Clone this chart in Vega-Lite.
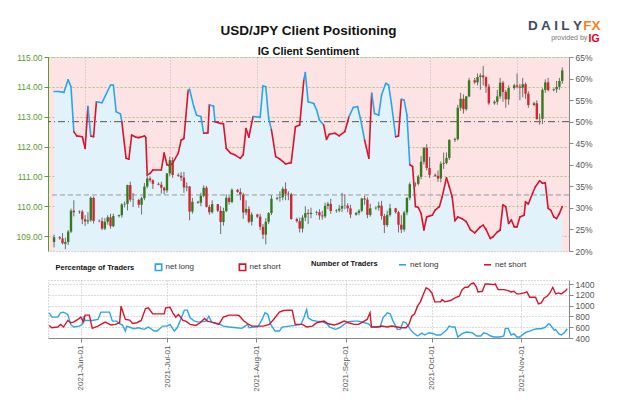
{
  "$schema": "https://vega.github.io/schema/vega-lite/v6.json",
  "padding": {"left": 15, "top": 18, "right": 0, "bottom": 0},
  "background": "white",
  "spacing": 29,
  "bounds": "flush",
  "config": {
    "font": "Liberation Sans",
    "axis": {"labelFont": "Liberation Sans", "labelFontSize": 8.5, "labelColor": "#555", "tickColor": "#888", "domainColor": "#888", "tickSize": 4, "labelPadding": 2, "title": null, "labelOverlap": false},
    "legend": {"labelFont": "Liberation Sans", "titleFont": "Liberation Sans", "labelFontSize": 8, "titleFontSize": 7.5, "titleFontWeight": "bold", "labelColor": "#333", "titleColor": "#111"}
  },
  "resolve": {"scale": {"x": "independent", "color": "independent", "stroke": "independent"}, "legend": {"color": "independent", "stroke": "independent"}},
  "datasets": {
    "sent": [
      {"d":"2021-05-21T00:00","p":57.0,"s":"L"},{"d":"2021-05-22T12:00","p":57.0,"s":"L"},{"d":"2021-05-24T12:00","p":56.8,"s":"L"},{"d":"2021-05-26T00:00","p":59.7,"s":"L"},{"d":"2021-05-27T00:00","p":58.1,"s":"L"},{"d":"2021-05-28T00:00","p":47.7,"s":"S"},{"d":"2021-05-29T00:00","p":46.7,"s":"S"},{"d":"2021-05-31T00:00","p":46.5,"s":"S"},{"d":"2021-06-01T00:00","p":43.8,"s":"S"},{"d":"2021-06-02T00:00","p":53.5,"s":"L"},{"d":"2021-06-03T00:00","p":46.7,"s":"S"},{"d":"2021-06-04T00:00","p":46.5,"s":"S"},{"d":"2021-06-05T00:00","p":54.6,"s":"L"},{"d":"2021-06-07T00:00","p":54.4,"s":"L"},{"d":"2021-06-10T00:00","p":58.5,"s":"L"},{"d":"2021-06-11T00:00","p":58.5,"s":"L"},{"d":"2021-06-12T00:00","p":52.3,"s":"L"},{"d":"2021-06-13T12:00","p":51.8,"s":"L"},{"d":"2021-06-14T00:00","p":50.0,"s":"S"},{"d":"2021-06-15T12:00","p":41.5,"s":"S"},{"d":"2021-06-16T12:00","p":41.3,"s":"S"},{"d":"2021-06-17T12:00","p":46.9,"s":"S"},{"d":"2021-06-19T00:00","p":46.4,"s":"S"},{"d":"2021-06-20T00:00","p":46.3,"s":"S"},{"d":"2021-06-22T00:00","p":46.7,"s":"S"},{"d":"2021-06-22T12:00","p":46.3,"s":"S"},{"d":"2021-06-23T00:00","p":37.6,"s":"S"},{"d":"2021-06-24T00:00","p":38.0,"s":"S"},{"d":"2021-06-25T00:00","p":38.8,"s":"S"},{"d":"2021-06-28T00:00","p":38.8,"s":"S"},{"d":"2021-06-29T00:00","p":42.7,"s":"S"},{"d":"2021-06-30T00:00","p":40.0,"s":"S"},{"d":"2021-07-01T00:00","p":39.8,"s":"S"},{"d":"2021-07-02T00:00","p":40.4,"s":"S"},{"d":"2021-07-04T00:00","p":42.7,"s":"S"},{"d":"2021-07-05T00:00","p":45.7,"s":"S"},{"d":"2021-07-06T00:00","p":46.1,"s":"S"},{"d":"2021-07-07T12:00","p":57.3,"s":"L"},{"d":"2021-07-08T00:00","p":57.5,"s":"L"},{"d":"2021-07-09T12:00","p":53.5,"s":"L"},{"d":"2021-07-10T12:00","p":51.5,"s":"L"},{"d":"2021-07-12T00:00","p":51.2,"s":"L"},{"d":"2021-07-13T00:00","p":47.3,"s":"S"},{"d":"2021-07-14T12:00","p":47.4,"s":"S"},{"d":"2021-07-15T00:00","p":53.9,"s":"L"},{"d":"2021-07-16T12:00","p":53.6,"s":"L"},{"d":"2021-07-17T00:00","p":50.0,"s":"S"},{"d":"2021-07-19T00:00","p":49.6,"s":"S"},{"d":"2021-07-20T00:00","p":49.5,"s":"S"},{"d":"2021-07-21T00:00","p":43.8,"s":"S"},{"d":"2021-07-22T12:00","p":42.7,"s":"S"},{"d":"2021-07-24T00:00","p":42.3,"s":"S"},{"d":"2021-07-26T00:00","p":41.5,"s":"S"},{"d":"2021-07-27T00:00","p":42.3,"s":"S"},{"d":"2021-07-28T00:00","p":48.4,"s":"S"},{"d":"2021-07-29T00:00","p":46.4,"s":"S"},{"d":"2021-07-30T12:00","p":51.2,"s":"L"},{"d":"2021-08-02T00:00","p":51.0,"s":"L"},{"d":"2021-08-03T00:00","p":58.3,"s":"L"},{"d":"2021-08-04T00:00","p":58.1,"s":"L"},{"d":"2021-08-05T00:00","p":50.8,"s":"L"},{"d":"2021-08-06T00:00","p":48.1,"s":"S"},{"d":"2021-08-07T12:00","p":41.9,"s":"S"},{"d":"2021-08-09T00:00","p":41.3,"s":"S"},{"d":"2021-08-11T00:00","p":40.2,"s":"S"},{"d":"2021-08-13T00:00","p":40.5,"s":"S"},{"d":"2021-08-14T12:00","p":48.8,"s":"S"},{"d":"2021-08-16T00:00","p":49.2,"s":"S"},{"d":"2021-08-17T12:00","p":59.8,"s":"L"},{"d":"2021-08-18T00:00","p":61.4,"s":"L"},{"d":"2021-08-19T00:00","p":54.6,"s":"L"},{"d":"2021-08-21T00:00","p":54.2,"s":"L"},{"d":"2021-08-22T00:00","p":52.7,"s":"L"},{"d":"2021-08-23T00:00","p":50.4,"s":"L"},{"d":"2021-08-24T12:00","p":49.2,"s":"S"},{"d":"2021-08-25T12:00","p":45.9,"s":"S"},{"d":"2021-08-26T12:00","p":47.1,"s":"S"},{"d":"2021-08-28T12:00","p":47.3,"s":"S"},{"d":"2021-08-30T00:00","p":46.7,"s":"S"},{"d":"2021-09-01T00:00","p":47.7,"s":"S"},{"d":"2021-09-02T12:00","p":51.2,"s":"L"},{"d":"2021-09-04T00:00","p":53.3,"s":"L"},{"d":"2021-09-05T12:00","p":53.5,"s":"L"},{"d":"2021-09-06T12:00","p":50.8,"s":"L"},{"d":"2021-09-08T00:00","p":45.7,"s":"S"},{"d":"2021-09-09T12:00","p":41.5,"s":"S"},{"d":"2021-09-10T12:00","p":56.6,"s":"L"},{"d":"2021-09-11T12:00","p":51.9,"s":"L"},{"d":"2021-09-13T00:00","p":51.5,"s":"L"},{"d":"2021-09-14T00:00","p":56.2,"s":"L"},{"d":"2021-09-15T12:00","p":58.9,"s":"L"},{"d":"2021-09-16T12:00","p":58.5,"s":"L"},{"d":"2021-09-17T12:00","p":54.2,"s":"L"},{"d":"2021-09-19T00:00","p":46.5,"s":"S"},{"d":"2021-09-20T00:00","p":46.7,"s":"S"},{"d":"2021-09-21T00:00","p":55.2,"s":"L"},{"d":"2021-09-22T00:00","p":55.0,"s":"L"},{"d":"2021-09-23T00:00","p":51.5,"s":"L"},{"d":"2021-09-24T00:00","p":40.0,"s":"S"},{"d":"2021-09-25T00:00","p":39.6,"s":"S"},{"d":"2021-09-26T00:00","p":30.3,"s":"S"},{"d":"2021-09-27T00:00","p":30.1,"s":"S"},{"d":"2021-09-28T00:00","p":28.7,"s":"S"},{"d":"2021-09-29T00:00","p":24.9,"s":"S"},{"d":"2021-09-30T00:00","p":27.9,"s":"S"},{"d":"2021-10-01T00:00","p":28.1,"s":"S"},{"d":"2021-10-02T00:00","p":28.3,"s":"S"},{"d":"2021-10-03T00:00","p":29.5,"s":"S"},{"d":"2021-10-04T12:00","p":30.3,"s":"S"},{"d":"2021-10-05T12:00","p":32.6,"s":"S"},{"d":"2021-10-07T00:00","p":37.0,"s":"S"},{"d":"2021-10-08T00:00","p":34.9,"s":"S"},{"d":"2021-10-09T00:00","p":32.6,"s":"S"},{"d":"2021-10-10T00:00","p":27.0,"s":"S"},{"d":"2021-10-11T00:00","p":27.9,"s":"S"},{"d":"2021-10-12T12:00","p":27.5,"s":"S"},{"d":"2021-10-14T00:00","p":26.8,"s":"S"},{"d":"2021-10-15T12:00","p":24.9,"s":"S"},{"d":"2021-10-17T00:00","p":24.2,"s":"S"},{"d":"2021-10-19T00:00","p":25.6,"s":"S"},{"d":"2021-10-20T00:00","p":26.0,"s":"S"},{"d":"2021-10-21T00:00","p":25.0,"s":"S"},{"d":"2021-10-22T12:00","p":22.9,"s":"S"},{"d":"2021-10-23T12:00","p":23.3,"s":"S"},{"d":"2021-10-25T00:00","p":24.4,"s":"S"},{"d":"2021-10-26T00:00","p":24.8,"s":"S"},{"d":"2021-10-27T00:00","p":30.7,"s":"S"},{"d":"2021-10-28T00:00","p":30.3,"s":"S"},{"d":"2021-10-29T00:00","p":26.4,"s":"S"},{"d":"2021-10-30T00:00","p":27.2,"s":"S"},{"d":"2021-10-31T00:00","p":25.6,"s":"S"},{"d":"2021-11-01T00:00","p":25.6,"s":"S"},{"d":"2021-11-02T00:00","p":27.9,"s":"S"},{"d":"2021-11-03T12:00","p":28.3,"s":"S"},{"d":"2021-11-04T00:00","p":31.4,"s":"S"},{"d":"2021-11-05T00:00","p":30.9,"s":"S"},{"d":"2021-11-06T12:00","p":33.4,"s":"S"},{"d":"2021-11-07T12:00","p":34.9,"s":"S"},{"d":"2021-11-09T00:00","p":36.3,"s":"S"},{"d":"2021-11-10T00:00","p":35.7,"s":"S"},{"d":"2021-11-11T00:00","p":35.8,"s":"S"},{"d":"2021-11-12T00:00","p":29.9,"s":"S"},{"d":"2021-11-13T00:00","p":29.4,"s":"S"},{"d":"2021-11-14T00:00","p":27.9,"s":"S"},{"d":"2021-11-15T00:00","p":27.5,"s":"S"},{"d":"2021-11-16T00:00","p":28.7,"s":"S"},{"d":"2021-11-17T00:00","p":30.3,"s":"S"}
    ],
    "ohlc": [
      {"d":"2021-05-21T00:00","o":108.80,"h":109.05,"l":108.62,"c":108.96},{"d":"2021-05-23T00:00","o":108.96,"h":109.00,"l":108.88,"c":108.92},{"d":"2021-05-24T00:00","o":108.92,"h":109.10,"l":108.72,"c":108.76},{"d":"2021-05-25T00:00","o":108.74,"h":108.95,"l":108.56,"c":108.80},{"d":"2021-05-26T00:00","o":108.80,"h":109.20,"l":108.70,"c":109.15},{"d":"2021-05-27T00:00","o":109.15,"h":109.92,"l":109.10,"c":109.85},{"d":"2021-05-28T00:00","o":109.85,"h":110.20,"l":109.66,"c":109.80},{"d":"2021-05-30T00:00","o":109.80,"h":109.86,"l":109.75,"c":109.82},{"d":"2021-05-31T00:00","o":109.82,"h":109.88,"l":109.40,"c":109.56},
      {"d":"2021-06-01T00:00","o":109.56,"h":109.70,"l":109.34,"c":109.49},{"d":"2021-06-02T00:00","o":109.49,"h":109.80,"l":109.40,"c":109.53},{"d":"2021-06-03T00:00","o":109.53,"h":110.33,"l":109.48,"c":110.28},{"d":"2021-06-04T00:00","o":110.28,"h":110.33,"l":109.42,"c":109.51},{"d":"2021-06-06T00:00","o":109.51,"h":109.56,"l":109.46,"c":109.50},{"d":"2021-06-07T00:00","o":109.50,"h":109.62,"l":109.20,"c":109.25},{"d":"2021-06-08T00:00","o":109.25,"h":109.60,"l":109.20,"c":109.48},{"d":"2021-06-09T00:00","o":109.48,"h":109.70,"l":109.38,"c":109.63},{"d":"2021-06-10T00:00","o":109.63,"h":109.75,"l":109.25,"c":109.33},{"d":"2021-06-11T00:00","o":109.33,"h":109.75,"l":109.30,"c":109.67},{"d":"2021-06-13T00:00","o":109.67,"h":109.72,"l":109.62,"c":109.70},{"d":"2021-06-14T00:00","o":109.70,"h":110.10,"l":109.62,"c":110.06},{"d":"2021-06-15T00:00","o":110.06,"h":110.16,"l":109.96,"c":110.08},{"d":"2021-06-16T00:00","o":110.08,"h":110.72,"l":109.86,"c":110.71},{"d":"2021-06-17T00:00","o":110.71,"h":110.82,"l":110.15,"c":110.22},{"d":"2021-06-18T00:00","o":110.22,"h":110.44,"l":109.97,"c":110.21},{"d":"2021-06-20T00:00","o":110.21,"h":110.25,"l":109.95,"c":110.05},{"d":"2021-06-21T00:00","o":110.05,"h":110.32,"l":109.72,"c":110.27},{"d":"2021-06-22T00:00","o":110.27,"h":110.78,"l":110.20,"c":110.66},{"d":"2021-06-23T00:00","o":110.66,"h":111.11,"l":110.60,"c":110.93},{"d":"2021-06-24T00:00","o":110.93,"h":111.00,"l":110.80,"c":110.87},{"d":"2021-06-25T00:00","o":110.87,"h":110.90,"l":110.58,"c":110.75},{"d":"2021-06-27T00:00","o":110.75,"h":110.80,"l":110.70,"c":110.72},{"d":"2021-06-28T00:00","o":110.72,"h":110.82,"l":110.42,"c":110.62},{"d":"2021-06-29T00:00","o":110.62,"h":110.65,"l":110.40,"c":110.53},{"d":"2021-06-30T00:00","o":110.53,"h":111.11,"l":110.45,"c":111.10},
      {"d":"2021-07-01T00:00","o":111.10,"h":111.66,"l":111.00,"c":111.54},{"d":"2021-07-02T00:00","o":111.54,"h":111.64,"l":110.95,"c":111.05},{"d":"2021-07-04T00:00","o":111.05,"h":111.10,"l":110.98,"c":111.02},{"d":"2021-07-05T00:00","o":111.02,"h":111.15,"l":110.85,"c":110.96},{"d":"2021-07-06T00:00","o":110.96,"h":111.15,"l":110.45,"c":110.63},{"d":"2021-07-07T00:00","o":110.63,"h":110.80,"l":110.50,"c":110.66},{"d":"2021-07-08T00:00","o":110.66,"h":110.68,"l":109.53,"c":109.82},{"d":"2021-07-09T00:00","o":109.82,"h":110.28,"l":109.75,"c":110.15},{"d":"2021-07-11T00:00","o":110.15,"h":110.18,"l":110.08,"c":110.12},{"d":"2021-07-12T00:00","o":110.12,"h":110.45,"l":110.00,"c":110.35},{"d":"2021-07-13T00:00","o":110.35,"h":110.70,"l":110.30,"c":110.62},{"d":"2021-07-14T00:00","o":110.62,"h":110.68,"l":109.96,"c":109.98},{"d":"2021-07-15T00:00","o":109.98,"h":110.05,"l":109.72,"c":109.80},{"d":"2021-07-16T00:00","o":109.80,"h":110.20,"l":109.75,"c":110.07},{"d":"2021-07-18T00:00","o":110.07,"h":110.07,"l":109.80,"c":109.85},{"d":"2021-07-19T00:00","o":109.85,"h":110.00,"l":109.07,"c":109.47},{"d":"2021-07-20T00:00","o":109.47,"h":109.95,"l":109.35,"c":109.84},{"d":"2021-07-21T00:00","o":109.84,"h":110.40,"l":109.80,"c":110.28},{"d":"2021-07-22T00:00","o":110.28,"h":110.35,"l":110.05,"c":110.14},{"d":"2021-07-23T00:00","o":110.14,"h":110.60,"l":110.10,"c":110.55},{"d":"2021-07-25T00:00","o":110.55,"h":110.58,"l":110.45,"c":110.48},{"d":"2021-07-26T00:00","o":110.48,"h":110.60,"l":110.20,"c":110.39},{"d":"2021-07-27T00:00","o":110.39,"h":110.45,"l":109.58,"c":109.79},{"d":"2021-07-28T00:00","o":109.79,"h":110.20,"l":109.70,"c":109.91},{"d":"2021-07-29T00:00","o":109.91,"h":110.00,"l":109.43,"c":109.48},{"d":"2021-07-30T00:00","o":109.48,"h":109.80,"l":109.35,"c":109.72},
      {"d":"2021-08-01T00:00","o":109.72,"h":109.75,"l":109.60,"c":109.65},{"d":"2021-08-02T00:00","o":109.65,"h":109.75,"l":109.20,"c":109.31},{"d":"2021-08-03T00:00","o":109.31,"h":109.40,"l":108.90,"c":109.05},{"d":"2021-08-04T00:00","o":109.05,"h":109.60,"l":108.72,"c":109.48},{"d":"2021-08-05T00:00","o":109.48,"h":109.80,"l":109.40,"c":109.77},{"d":"2021-08-06T00:00","o":109.77,"h":110.37,"l":109.70,"c":110.25},{"d":"2021-08-08T00:00","o":110.25,"h":110.32,"l":110.20,"c":110.28},{"d":"2021-08-09T00:00","o":110.28,"h":110.50,"l":110.15,"c":110.30},{"d":"2021-08-10T00:00","o":110.30,"h":110.65,"l":110.20,"c":110.58},{"d":"2021-08-11T00:00","o":110.58,"h":110.80,"l":110.20,"c":110.42},{"d":"2021-08-12T00:00","o":110.42,"h":110.50,"l":110.20,"c":110.40},{"d":"2021-08-13T00:00","o":110.40,"h":110.45,"l":109.55,"c":109.57},{"d":"2021-08-15T00:00","o":109.57,"h":109.62,"l":109.45,"c":109.50},{"d":"2021-08-16T00:00","o":109.50,"h":109.62,"l":109.12,"c":109.25},{"d":"2021-08-17T00:00","o":109.25,"h":109.70,"l":109.12,"c":109.62},{"d":"2021-08-18T00:00","o":109.62,"h":110.00,"l":109.50,"c":109.77},{"d":"2021-08-19T00:00","o":109.77,"h":109.90,"l":109.40,"c":109.74},{"d":"2021-08-20T00:00","o":109.74,"h":109.95,"l":109.60,"c":109.78},{"d":"2021-08-22T00:00","o":109.78,"h":109.85,"l":109.70,"c":109.80},{"d":"2021-08-23T00:00","o":109.80,"h":109.90,"l":109.55,"c":109.69},{"d":"2021-08-24T00:00","o":109.69,"h":109.85,"l":109.55,"c":109.66},{"d":"2021-08-25T00:00","o":109.66,"h":110.12,"l":109.60,"c":110.01},{"d":"2021-08-26T00:00","o":110.01,"h":110.15,"l":109.90,"c":110.08},{"d":"2021-08-27T00:00","o":110.08,"h":110.25,"l":109.75,"c":109.84},{"d":"2021-08-29T00:00","o":109.84,"h":109.90,"l":109.78,"c":109.86},{"d":"2021-08-30T00:00","o":109.86,"h":110.05,"l":109.80,"c":109.92},{"d":"2021-08-31T00:00","o":109.92,"h":110.45,"l":109.80,"c":110.01},
      {"d":"2021-09-01T00:00","o":110.01,"h":110.40,"l":109.90,"c":110.02},{"d":"2021-09-02T00:00","o":110.02,"h":110.10,"l":109.80,"c":109.93},{"d":"2021-09-03T00:00","o":109.93,"h":110.05,"l":109.60,"c":109.72},{"d":"2021-09-05T00:00","o":109.72,"h":109.80,"l":109.68,"c":109.78},{"d":"2021-09-06T00:00","o":109.78,"h":109.90,"l":109.70,"c":109.85},{"d":"2021-09-07T00:00","o":109.85,"h":110.28,"l":109.80,"c":110.26},{"d":"2021-09-08T00:00","o":110.26,"h":110.35,"l":110.05,"c":110.22},{"d":"2021-09-09T00:00","o":110.22,"h":110.30,"l":109.60,"c":109.71},{"d":"2021-09-10T00:00","o":109.71,"h":110.08,"l":109.65,"c":109.93},{"d":"2021-09-12T00:00","o":109.93,"h":110.00,"l":109.88,"c":109.95},{"d":"2021-09-13T00:00","o":109.95,"h":110.15,"l":109.85,"c":110.02},{"d":"2021-09-14T00:00","o":110.02,"h":110.18,"l":109.55,"c":109.67},{"d":"2021-09-15T00:00","o":109.67,"h":109.75,"l":109.10,"c":109.37},{"d":"2021-09-16T00:00","o":109.37,"h":109.85,"l":109.30,"c":109.71},{"d":"2021-09-17T00:00","o":109.71,"h":110.08,"l":109.65,"c":109.93},{"d":"2021-09-19T00:00","o":109.93,"h":109.95,"l":109.75,"c":109.80},{"d":"2021-09-20T00:00","o":109.80,"h":109.85,"l":109.12,"c":109.38},{"d":"2021-09-21T00:00","o":109.38,"h":109.70,"l":109.10,"c":109.22},{"d":"2021-09-22T00:00","o":109.22,"h":109.85,"l":109.15,"c":109.79},{"d":"2021-09-23T00:00","o":109.79,"h":110.30,"l":109.70,"c":110.28},{"d":"2021-09-24T00:00","o":110.28,"h":110.80,"l":110.20,"c":110.74},{"d":"2021-09-26T00:00","o":110.74,"h":110.80,"l":110.65,"c":110.75},{"d":"2021-09-27T00:00","o":110.75,"h":111.05,"l":110.70,"c":110.99},{"d":"2021-09-28T00:00","o":110.99,"h":111.68,"l":110.90,"c":111.49},{"d":"2021-09-29T00:00","o":111.49,"h":111.98,"l":111.40,"c":111.96},{"d":"2021-09-30T00:00","o":111.96,"h":112.08,"l":111.20,"c":111.28},
      {"d":"2021-10-01T00:00","o":111.28,"h":111.65,"l":110.95,"c":111.05},{"d":"2021-10-03T00:00","o":111.05,"h":111.10,"l":110.98,"c":111.02},{"d":"2021-10-04T00:00","o":111.02,"h":111.20,"l":110.82,"c":110.93},{"d":"2021-10-05T00:00","o":110.93,"h":111.50,"l":110.80,"c":111.42},{"d":"2021-10-06T00:00","o":111.42,"h":111.80,"l":111.25,"c":111.45},{"d":"2021-10-07T00:00","o":111.45,"h":111.80,"l":111.40,"c":111.62},{"d":"2021-10-08T00:00","o":111.62,"h":112.25,"l":111.55,"c":112.22},{"d":"2021-10-10T00:00","o":112.22,"h":112.30,"l":112.15,"c":112.25},{"d":"2021-10-11T00:00","o":112.25,"h":113.40,"l":112.20,"c":113.30},{"d":"2021-10-12T00:00","o":113.30,"h":113.80,"l":113.20,"c":113.60},{"d":"2021-10-13T00:00","o":113.60,"h":113.75,"l":113.10,"c":113.25},{"d":"2021-10-14T00:00","o":113.25,"h":113.70,"l":113.20,"c":113.68},{"d":"2021-10-15T00:00","o":113.68,"h":114.30,"l":113.65,"c":114.22},{"d":"2021-10-17T00:00","o":114.22,"h":114.30,"l":114.10,"c":114.15},{"d":"2021-10-18T00:00","o":114.15,"h":114.45,"l":114.05,"c":114.33},{"d":"2021-10-19T00:00","o":114.33,"h":114.45,"l":113.90,"c":114.38},{"d":"2021-10-20T00:00","o":114.38,"h":114.70,"l":114.05,"c":114.32},{"d":"2021-10-21T00:00","o":114.32,"h":114.35,"l":113.80,"c":114.01},{"d":"2021-10-22T00:00","o":114.01,"h":114.10,"l":113.40,"c":113.45},{"d":"2021-10-24T00:00","o":113.45,"h":113.55,"l":113.40,"c":113.50},{"d":"2021-10-25T00:00","o":113.50,"h":113.90,"l":113.40,"c":113.68},{"d":"2021-10-26T00:00","o":113.68,"h":114.30,"l":113.60,"c":114.14},{"d":"2021-10-27T00:00","o":114.14,"h":114.20,"l":113.50,"c":113.83},{"d":"2021-10-28T00:00","o":113.83,"h":113.90,"l":113.30,"c":113.58},{"d":"2021-10-29T00:00","o":113.58,"h":114.05,"l":113.40,"c":113.96},{"d":"2021-10-31T00:00","o":113.96,"h":114.10,"l":113.90,"c":114.05},
      {"d":"2021-11-01T00:00","o":114.05,"h":114.45,"l":113.95,"c":114.01},{"d":"2021-11-02T00:00","o":114.01,"h":114.10,"l":113.55,"c":113.97},{"d":"2021-11-03T00:00","o":113.97,"h":114.30,"l":113.65,"c":114.09},{"d":"2021-11-04T00:00","o":114.09,"h":114.15,"l":113.60,"c":113.77},{"d":"2021-11-05T00:00","o":113.77,"h":113.85,"l":113.30,"c":113.39},{"d":"2021-11-07T00:00","o":113.39,"h":113.50,"l":113.35,"c":113.45},{"d":"2021-11-08T00:00","o":113.45,"h":113.55,"l":112.90,"c":112.92},{"d":"2021-11-09T00:00","o":112.92,"h":113.10,"l":112.73,"c":112.93},{"d":"2021-11-10T00:00","o":112.93,"h":113.95,"l":112.75,"c":113.90},{"d":"2021-11-11T00:00","o":113.90,"h":114.25,"l":113.80,"c":114.15},{"d":"2021-11-12T00:00","o":114.15,"h":114.30,"l":113.85,"c":113.89},{"d":"2021-11-14T00:00","o":113.89,"h":113.95,"l":113.85,"c":113.92},{"d":"2021-11-15T00:00","o":113.92,"h":114.20,"l":113.80,"c":114.00},{"d":"2021-11-16T00:00","o":114.00,"h":114.30,"l":113.90,"c":114.20},{"d":"2021-11-17T00:00","o":114.20,"h":114.65,"l":114.10,"c":114.55}
    ],
    "traders": [
      {"d":"2021-05-21T00:00","v":867,"s":"L"},{"d":"2021-05-22T00:00","v":787,"s":"L"},{"d":"2021-05-24T00:00","v":787,"s":"L"},{"d":"2021-05-25T00:00","v":867,"s":"L"},{"d":"2021-05-26T00:00","v":879,"s":"L"},{"d":"2021-05-27T12:00","v":836,"s":"L"},{"d":"2021-05-28T12:00","v":652,"s":"L"},{"d":"2021-05-29T12:00","v":603,"s":"L"},{"d":"2021-05-31T12:00","v":621,"s":"L"},{"d":"2021-06-01T12:00","v":652,"s":"L"},{"d":"2021-06-02T00:00","v":805,"s":"L"},{"d":"2021-06-02T12:00","v":725,"s":"L"},{"d":"2021-06-05T00:00","v":725,"s":"L"},{"d":"2021-06-07T00:00","v":744,"s":"L"},{"d":"2021-06-08T00:00","v":879,"s":"L"},{"d":"2021-06-09T12:00","v":879,"s":"L"},{"d":"2021-06-11T00:00","v":879,"s":"L"},{"d":"2021-06-12T00:00","v":713,"s":"L"},{"d":"2021-06-13T12:00","v":713,"s":"L"},{"d":"2021-06-14T12:00","v":664,"s":"L"},{"d":"2021-06-15T12:00","v":640,"s":"L"},{"d":"2021-06-16T12:00","v":529,"s":"L"},{"d":"2021-06-17T00:00","v":621,"s":"L"},{"d":"2021-06-18T12:00","v":590,"s":"L"},{"d":"2021-06-19T12:00","v":572,"s":"L"},{"d":"2021-06-21T00:00","v":590,"s":"L"},{"d":"2021-06-23T00:00","v":560,"s":"L"},{"d":"2021-06-24T12:00","v":603,"s":"L"},{"d":"2021-06-26T12:00","v":529,"s":"L"},{"d":"2021-06-27T12:00","v":529,"s":"L"},{"d":"2021-06-29T12:00","v":621,"s":"L"},{"d":"2021-07-01T00:00","v":621,"s":"L"},{"d":"2021-07-02T00:00","v":652,"s":"L"},{"d":"2021-07-03T12:00","v":529,"s":"L"},{"d":"2021-07-04T12:00","v":590,"s":"L"},{"d":"2021-07-05T12:00","v":713,"s":"L"},{"d":"2021-07-07T00:00","v":916,"s":"L"},{"d":"2021-07-08T00:00","v":916,"s":"L"},{"d":"2021-07-09T00:00","v":775,"s":"L"},{"d":"2021-07-10T12:00","v":713,"s":"L"},{"d":"2021-07-12T00:00","v":695,"s":"L"},{"d":"2021-07-14T12:00","v":713,"s":"L"},{"d":"2021-07-15T12:00","v":805,"s":"L"},{"d":"2021-07-16T12:00","v":695,"s":"L"},{"d":"2021-07-19T00:00","v":664,"s":"L"},{"d":"2021-07-20T12:00","v":621,"s":"L"},{"d":"2021-07-22T12:00","v":603,"s":"L"},{"d":"2021-07-25T00:00","v":590,"s":"L"},{"d":"2021-07-27T00:00","v":578,"s":"L"},{"d":"2021-07-29T00:00","v":652,"s":"L"},{"d":"2021-07-29T12:00","v":590,"s":"L"},{"d":"2021-07-31T00:00","v":603,"s":"L"},{"d":"2021-08-01T12:00","v":603,"s":"L"},{"d":"2021-08-03T00:00","v":744,"s":"L"},{"d":"2021-08-04T00:00","v":867,"s":"L"},{"d":"2021-08-05T00:00","v":836,"s":"L"},{"d":"2021-08-06T00:00","v":652,"s":"L"},{"d":"2021-08-07T12:00","v":529,"s":"L"},{"d":"2021-08-09T00:00","v":529,"s":"L"},{"d":"2021-08-10T00:00","v":603,"s":"L"},{"d":"2021-08-12T12:00","v":621,"s":"L"},{"d":"2021-08-14T12:00","v":633,"s":"L"},{"d":"2021-08-16T12:00","v":652,"s":"L"},{"d":"2021-08-17T12:00","v":775,"s":"L"},{"d":"2021-08-18T12:00","v":928,"s":"L"},{"d":"2021-08-19T00:00","v":775,"s":"L"},{"d":"2021-08-20T12:00","v":725,"s":"L"},{"d":"2021-08-22T00:00","v":713,"s":"L"},{"d":"2021-08-24T00:00","v":701,"s":"L"},{"d":"2021-08-25T12:00","v":664,"s":"L"},{"d":"2021-08-26T12:00","v":603,"s":"L"},{"d":"2021-08-28T12:00","v":560,"s":"L"},{"d":"2021-08-30T00:00","v":590,"s":"L"},{"d":"2021-08-31T12:00","v":652,"s":"L"},{"d":"2021-09-02T00:00","v":701,"s":"L"},{"d":"2021-09-04T00:00","v":713,"s":"L"},{"d":"2021-09-05T12:00","v":713,"s":"L"},{"d":"2021-09-07T12:00","v":683,"s":"L"},{"d":"2021-09-09T00:00","v":664,"s":"L"},{"d":"2021-09-10T00:00","v":603,"s":"L"},{"d":"2021-09-11T12:00","v":603,"s":"L"},{"d":"2021-09-13T00:00","v":603,"s":"L"},{"d":"2021-09-14T00:00","v":775,"s":"L"},{"d":"2021-09-15T12:00","v":867,"s":"L"},{"d":"2021-09-16T12:00","v":848,"s":"L"},{"d":"2021-09-17T12:00","v":713,"s":"L"},{"d":"2021-09-19T00:00","v":560,"s":"L"},{"d":"2021-09-20T00:00","v":560,"s":"L"},{"d":"2021-09-21T00:00","v":701,"s":"L"},{"d":"2021-09-22T00:00","v":683,"s":"L"},{"d":"2021-09-23T12:00","v":560,"s":"L"},{"d":"2021-09-24T12:00","v":498,"s":"L"},{"d":"2021-09-26T00:00","v":437,"s":"L"},{"d":"2021-09-27T12:00","v":490,"s":"L"},{"d":"2021-09-28T12:00","v":455,"s":"L"},{"d":"2021-09-30T00:00","v":498,"s":"L"},{"d":"2021-10-01T12:00","v":480,"s":"L"},{"d":"2021-10-02T12:00","v":455,"s":"L"},{"d":"2021-10-04T00:00","v":455,"s":"L"},{"d":"2021-10-05T00:00","v":498,"s":"L"},{"d":"2021-10-06T00:00","v":541,"s":"L"},{"d":"2021-10-07T00:00","v":621,"s":"L"},{"d":"2021-10-08T00:00","v":603,"s":"L"},{"d":"2021-10-09T00:00","v":603,"s":"L"},{"d":"2021-10-10T00:00","v":418,"s":"L"},{"d":"2021-10-11T12:00","v":480,"s":"L"},{"d":"2021-10-13T00:00","v":511,"s":"L"},{"d":"2021-10-15T00:00","v":498,"s":"L"},{"d":"2021-10-16T12:00","v":437,"s":"L"},{"d":"2021-10-18T00:00","v":437,"s":"L"},{"d":"2021-10-19T00:00","v":498,"s":"L"},{"d":"2021-10-20T00:00","v":480,"s":"L"},{"d":"2021-10-21T12:00","v":437,"s":"L"},{"d":"2021-10-22T12:00","v":418,"s":"L"},{"d":"2021-10-24T12:00","v":418,"s":"L"},{"d":"2021-10-26T00:00","v":437,"s":"L"},{"d":"2021-10-26T12:00","v":578,"s":"L"},{"d":"2021-10-27T12:00","v":578,"s":"L"},{"d":"2021-10-28T12:00","v":455,"s":"L"},{"d":"2021-10-29T12:00","v":480,"s":"L"},{"d":"2021-10-30T12:00","v":418,"s":"L"},{"d":"2021-10-31T12:00","v":418,"s":"L"},{"d":"2021-11-02T00:00","v":480,"s":"L"},{"d":"2021-11-03T00:00","v":511,"s":"L"},{"d":"2021-11-04T00:00","v":529,"s":"L"},{"d":"2021-11-05T12:00","v":560,"s":"L"},{"d":"2021-11-06T12:00","v":572,"s":"L"},{"d":"2021-11-08T00:00","v":572,"s":"L"},{"d":"2021-11-09T12:00","v":603,"s":"L"},{"d":"2021-11-10T12:00","v":664,"s":"L"},{"d":"2021-11-11T00:00","v":652,"s":"L"},{"d":"2021-11-12T12:00","v":541,"s":"L"},{"d":"2021-11-13T00:00","v":560,"s":"L"},{"d":"2021-11-14T00:00","v":480,"s":"L"},{"d":"2021-11-15T00:00","v":455,"s":"L"},{"d":"2021-11-16T00:00","v":498,"s":"L"},{"d":"2021-11-17T00:00","v":572,"s":"L"},
      {"d":"2021-05-21T00:00","v":633,"s":"S"},{"d":"2021-05-22T00:00","v":590,"s":"S"},{"d":"2021-05-24T00:00","v":603,"s":"S"},{"d":"2021-05-25T00:00","v":652,"s":"S"},{"d":"2021-05-26T00:00","v":603,"s":"S"},{"d":"2021-05-27T12:00","v":725,"s":"S"},{"d":"2021-05-28T12:00","v":683,"s":"S"},{"d":"2021-05-29T12:00","v":695,"s":"S"},{"d":"2021-05-31T00:00","v":744,"s":"S"},{"d":"2021-06-01T00:00","v":787,"s":"S"},{"d":"2021-06-02T00:00","v":695,"s":"S"},{"d":"2021-06-02T12:00","v":824,"s":"S"},{"d":"2021-06-04T00:00","v":824,"s":"S"},{"d":"2021-06-05T00:00","v":578,"s":"S"},{"d":"2021-06-07T00:00","v":621,"s":"S"},{"d":"2021-06-08T00:00","v":652,"s":"S"},{"d":"2021-06-09T12:00","v":695,"s":"S"},{"d":"2021-06-11T12:00","v":640,"s":"S"},{"d":"2021-06-13T00:00","v":652,"s":"S"},{"d":"2021-06-14T12:00","v":683,"s":"S"},{"d":"2021-06-15T00:00","v":990,"s":"S"},{"d":"2021-06-16T12:00","v":744,"s":"S"},{"d":"2021-06-18T00:00","v":732,"s":"S"},{"d":"2021-06-19T00:00","v":670,"s":"S"},{"d":"2021-06-20T12:00","v":683,"s":"S"},{"d":"2021-06-22T00:00","v":725,"s":"S"},{"d":"2021-06-23T12:00","v":947,"s":"S"},{"d":"2021-06-24T12:00","v":959,"s":"S"},{"d":"2021-06-26T00:00","v":848,"s":"S"},{"d":"2021-06-27T12:00","v":848,"s":"S"},{"d":"2021-06-30T00:00","v":848,"s":"S"},{"d":"2021-06-30T12:00","v":959,"s":"S"},{"d":"2021-07-02T00:00","v":971,"s":"S"},{"d":"2021-07-03T00:00","v":867,"s":"S"},{"d":"2021-07-04T00:00","v":787,"s":"S"},{"d":"2021-07-05T00:00","v":836,"s":"S"},{"d":"2021-07-06T12:00","v":725,"s":"S"},{"d":"2021-07-07T12:00","v":713,"s":"S"},{"d":"2021-07-09T00:00","v":652,"s":"S"},{"d":"2021-07-11T00:00","v":633,"s":"S"},{"d":"2021-07-12T12:00","v":683,"s":"S"},{"d":"2021-07-14T00:00","v":762,"s":"S"},{"d":"2021-07-15T00:00","v":713,"s":"S"},{"d":"2021-07-16T12:00","v":695,"s":"S"},{"d":"2021-07-19T00:00","v":652,"s":"S"},{"d":"2021-07-20T12:00","v":787,"s":"S"},{"d":"2021-07-22T12:00","v":824,"s":"S"},{"d":"2021-07-25T00:00","v":824,"s":"S"},{"d":"2021-07-26T00:00","v":818,"s":"S"},{"d":"2021-07-27T12:00","v":725,"s":"S"},{"d":"2021-07-29T00:00","v":664,"s":"S"},{"d":"2021-07-30T12:00","v":621,"s":"S"},{"d":"2021-08-01T12:00","v":621,"s":"S"},{"d":"2021-08-03T12:00","v":621,"s":"S"},{"d":"2021-08-05T12:00","v":652,"s":"S"},{"d":"2021-08-07T00:00","v":744,"s":"S"},{"d":"2021-08-09T00:00","v":879,"s":"S"},{"d":"2021-08-10T12:00","v":910,"s":"S"},{"d":"2021-08-12T12:00","v":916,"s":"S"},{"d":"2021-08-13T12:00","v":910,"s":"S"},{"d":"2021-08-14T12:00","v":652,"s":"S"},{"d":"2021-08-17T00:00","v":652,"s":"S"},{"d":"2021-08-18T12:00","v":603,"s":"S"},{"d":"2021-08-20T12:00","v":621,"s":"S"},{"d":"2021-08-22T00:00","v":683,"s":"S"},{"d":"2021-08-24T12:00","v":713,"s":"S"},{"d":"2021-08-26T00:00","v":664,"s":"S"},{"d":"2021-08-28T00:00","v":640,"s":"S"},{"d":"2021-08-29T12:00","v":664,"s":"S"},{"d":"2021-08-31T12:00","v":713,"s":"S"},{"d":"2021-09-02T00:00","v":683,"s":"S"},{"d":"2021-09-04T00:00","v":652,"s":"S"},{"d":"2021-09-05T12:00","v":652,"s":"S"},{"d":"2021-09-07T12:00","v":713,"s":"S"},{"d":"2021-09-08T12:00","v":744,"s":"S"},{"d":"2021-09-09T12:00","v":867,"s":"S"},{"d":"2021-09-10T00:00","v":603,"s":"S"},{"d":"2021-09-12T00:00","v":603,"s":"S"},{"d":"2021-09-13T12:00","v":621,"s":"S"},{"d":"2021-09-15T12:00","v":603,"s":"S"},{"d":"2021-09-17T00:00","v":621,"s":"S"},{"d":"2021-09-19T00:00","v":603,"s":"S"},{"d":"2021-09-20T12:00","v":590,"s":"S"},{"d":"2021-09-22T00:00","v":590,"s":"S"},{"d":"2021-09-23T00:00","v":652,"s":"S"},{"d":"2021-09-24T00:00","v":805,"s":"S"},{"d":"2021-09-25T00:00","v":848,"s":"S"},{"d":"2021-09-26T00:00","v":990,"s":"S"},{"d":"2021-09-27T00:00","v":1070,"s":"S"},{"d":"2021-09-28T00:00","v":1205,"s":"S"},{"d":"2021-09-29T00:00","v":1330,"s":"S"},{"d":"2021-09-30T00:00","v":1300,"s":"S"},{"d":"2021-10-01T00:00","v":1235,"s":"S"},{"d":"2021-10-02T00:00","v":1070,"s":"S"},{"d":"2021-10-04T00:00","v":1070,"s":"S"},{"d":"2021-10-04T12:00","v":1113,"s":"S"},{"d":"2021-10-05T12:00","v":1070,"s":"S"},{"d":"2021-10-07T12:00","v":1094,"s":"S"},{"d":"2021-10-09T00:00","v":1143,"s":"S"},{"d":"2021-10-10T12:00","v":1174,"s":"S"},{"d":"2021-10-11T12:00","v":1297,"s":"S"},{"d":"2021-10-12T12:00","v":1340,"s":"S"},{"d":"2021-10-13T12:00","v":1340,"s":"S"},{"d":"2021-10-14T12:00","v":1401,"s":"S"},{"d":"2021-10-15T12:00","v":1420,"s":"S"},{"d":"2021-10-16T12:00","v":1340,"s":"S"},{"d":"2021-10-17T00:00","v":1254,"s":"S"},{"d":"2021-10-18T12:00","v":1266,"s":"S"},{"d":"2021-10-19T12:00","v":1401,"s":"S"},{"d":"2021-10-20T12:00","v":1401,"s":"S"},{"d":"2021-10-22T12:00","v":1389,"s":"S"},{"d":"2021-10-23T00:00","v":1401,"s":"S"},{"d":"2021-10-24T00:00","v":1297,"s":"S"},{"d":"2021-10-26T00:00","v":1297,"s":"S"},{"d":"2021-10-27T12:00","v":1278,"s":"S"},{"d":"2021-10-28T12:00","v":1254,"s":"S"},{"d":"2021-10-29T12:00","v":1266,"s":"S"},{"d":"2021-10-30T12:00","v":1217,"s":"S"},{"d":"2021-10-31T12:00","v":1217,"s":"S"},{"d":"2021-11-02T00:00","v":1235,"s":"S"},{"d":"2021-11-03T00:00","v":1254,"s":"S"},{"d":"2021-11-04T00:00","v":1155,"s":"S"},{"d":"2021-11-06T00:00","v":1155,"s":"S"},{"d":"2021-11-07T00:00","v":1033,"s":"S"},{"d":"2021-11-08T00:00","v":1051,"s":"S"},{"d":"2021-11-09T00:00","v":1143,"s":"S"},{"d":"2021-11-10T00:00","v":1174,"s":"S"},{"d":"2021-11-11T00:00","v":1235,"s":"S"},{"d":"2021-11-12T00:00","v":1340,"s":"S"},{"d":"2021-11-13T00:00","v":1217,"s":"S"},{"d":"2021-11-14T00:00","v":1235,"s":"S"},{"d":"2021-11-15T00:00","v":1217,"s":"S"},{"d":"2021-11-16T12:00","v":1278,"s":"S"},{"d":"2021-11-17T00:00","v":1315,"s":"S"}
    ]
  },
  "vconcat": [
    {
      "width": 521,
      "height": 194,
      "title": {"text": "USD/JPY Client Positioning", "subtitle": "IG Client Sentiment", "font": "Liberation Sans", "fontSize": 13.5, "fontWeight": "bold", "color": "#111", "subtitleFont": "Liberation Sans", "subtitleFontSize": 11, "subtitleFontWeight": "bold", "subtitleColor": "#111", "subtitlePadding": 9, "offset": -4, "anchor": "middle"},
      "view": {"fill": "#fde3e4", "stroke": "#b0b0b0", "strokeDash": [1, 2]},
      "resolve": {"scale": {"y": "independent"}},
      "layer": [
        {
          "layer": [
            {
              "data": {"name": "sent"},
              "mark": {"type": "area", "color": "#e2f2fb", "opacity": 1},
              "encoding": {
                "x": {"field": "d", "type": "temporal", "scale": {"domain": [{"year": 2021, "month": 5, "date": 20, "hours": 15}, {"year": 2021, "month": 11, "date": 17, "hours": 15}]}, "axis": {"orient": "bottom", "values": [{"year": 2021, "month": 6, "date": 1}, {"year": 2021, "month": 7, "date": 1}, {"year": 2021, "month": 8, "date": 1}, {"year": 2021, "month": 9, "date": 1}, {"year": 2021, "month": 10, "date": 1}, {"year": 2021, "month": 11, "date": 1}], "tickCount": 30, "labels": false, "ticks": false, "domain": false, "grid": true, "gridColor": "#b8b8b8", "gridDash": [1, 2]}},
                "y": {"field": "p", "type": "quantitative", "scale": {"domain": [20, 65], "nice": false, "zero": false}, "axis": {"orient": "right", "values": [20, 25, 30, 35, 40, 45, 50, 55, 60, 65], "tickCount": 30, "labelExpr": "datum.value + '%'", "labelFlush": false, "grid": false}},
                "y2": {"datum": 20}
              }
            },
            {
              "data": {"values": [{}]},
              "mark": {"type": "rule", "color": "#555", "strokeDash": [7, 3, 1, 3], "strokeWidth": 1},
              "encoding": {"y": {"datum": 50, "type": "quantitative"}}
            },
            {
              "data": {"values": [{}]},
              "mark": {"type": "rule", "color": "#999", "strokeDash": [5, 3], "strokeWidth": 1},
              "encoding": {"y": {"datum": 33, "type": "quantitative"}}
            },
            {
              "data": {"name": "sent"},
              "transform": [
                {"window": [{"op": "lead", "field": "d", "as": "d2"}, {"op": "lead", "field": "p", "as": "p2"}], "sort": [{"field": "d", "order": "ascending"}]},
                {"filter": "datum.d2 != null"}
              ],
              "mark": {"type": "rule", "strokeWidth": 1.6, "strokeCap": "round"},
              "encoding": {
                "x": {"field": "d", "type": "temporal"},
                "x2": {"field": "d2"},
                "y": {"field": "p", "type": "quantitative"},
                "y2": {"field": "p2"},
                "stroke": {"field": "s", "type": "nominal", "scale": {"domain": ["L", "S"], "range": ["#2ba5e8", "#d8142c"]}, "legend": {"title": "Percentage of Traders", "orient": "none", "legendX": 7.5, "legendY": 206, "direction": "horizontal", "titleOrient": "left", "titlePadding": 20, "symbolType": "square", "symbolSize": 40, "symbolStrokeWidth": 1.6, "symbolFillColor": "#ffffff", "columnPadding": 41, "labelOffset": 3, "labelExpr": "datum.label == 'L' ? 'net long' : 'net short'"}}
              }
            }
          ]
        },
        {
          "layer": [
            {
              "data": {"name": "ohlc"},
              "mark": {"type": "rule", "color": "#6e6e6e", "strokeWidth": 1},
              "encoding": {
                "x": {"field": "d", "type": "temporal"},
                "y": {"field": "l", "type": "quantitative", "scale": {"domain": [108.5, 115], "nice": false, "zero": false}, "axis": {"orient": "left", "values": [109, 110, 111, 112, 113, 114, 115], "tickCount": 30, "format": ".2f", "labelFlush": false, "labelColor": "#5b9a2c", "tickColor": "#5b9a2c", "domainColor": "#5b9a2c", "grid": true, "gridColor": "#a9c584", "gridDash": [2, 2]}},
                "y2": {"field": "h"}
              }
            },
            {
              "data": {"name": "ohlc"},
              "mark": {"type": "bar", "width": 2.4},
              "encoding": {
                "x": {"field": "d", "type": "temporal"},
                "y": {"field": "o", "type": "quantitative"},
                "y2": {"field": "c"},
                "color": {"condition": {"test": "datum.c >= datum.o", "value": "#357a1e"}, "value": "#d22630"}
              }
            }
          ]
        }
      ]
    },
    {
      "width": 521,
      "height": 58,
      "view": {"stroke": "#b0b0b0", "strokeDash": [1, 2]},
      "layer": [
        {
          "data": {"name": "traders"},
          "mark": {"type": "line", "strokeWidth": 1.4},
          "encoding": {
            "x": {"field": "d", "type": "temporal", "scale": {"domain": [{"year": 2021, "month": 5, "date": 20, "hours": 15}, {"year": 2021, "month": 11, "date": 17, "hours": 15}]}, "axis": {"orient": "bottom", "format": "%Y-%b-%d", "values": [{"year": 2021, "month": 6, "date": 1}, {"year": 2021, "month": 7, "date": 1}, {"year": 2021, "month": 8, "date": 1}, {"year": 2021, "month": 9, "date": 1}, {"year": 2021, "month": 10, "date": 1}, {"year": 2021, "month": 11, "date": 1}], "tickCount": 30, "labelAngle": 270, "labelFontSize": 8, "grid": true, "gridColor": "#b8b8b8", "gridDash": [1, 2], "labelPadding": 3}},
            "y": {"field": "v", "type": "quantitative", "scale": {"domain": [400, 1475], "nice": false, "zero": false}, "axis": {"orient": "right", "values": [400, 600, 800, 1000, 1200, 1400], "tickCount": 30, "format": "d", "labelFlush": false, "grid": true, "gridColor": "#b8b8b8", "gridDash": [1, 2]}},
            "color": {"field": "s", "type": "nominal", "scale": {"domain": ["L", "S"], "range": ["#2ba5e8", "#d8142c"]}, "legend": {"title": "Number of Traders", "orient": "none", "legendX": 263, "legendY": -20, "direction": "horizontal", "titleOrient": "left", "titlePadding": 20, "symbolType": "stroke", "symbolSize": 50, "symbolStrokeWidth": 1.6, "columnPadding": 41, "labelOffset": 3, "labelExpr": "datum.label == 'L' ? 'net long' : 'net short'"}}
          }
        },
        {
          "data": {"values": [{}]},
          "mark": {"type": "text", "text": "D\u2005A\u2005I\u2005L\u2005Y", "align": "right", "baseline": "alphabetic", "font": "Liberation Sans", "fontSize": 13.5, "fontWeight": "bold", "color": "#3e4a59"},
          "encoding": {"x": {"datum": {"year": 2021, "month": 11, "date": 22, "hours": 3}, "type": "temporal"}, "y": {"datum": 6109, "type": "quantitative"}}
        },
        {
          "data": {"values": [{}]},
          "mark": {"type": "text", "text": "FX", "align": "left", "baseline": "alphabetic", "font": "Liberation Sans", "fontSize": 13.5, "fontWeight": "bold", "color": "#f58220"},
          "encoding": {"x": {"datum": {"year": 2021, "month": 11, "date": 22, "hours": 13}, "type": "temporal"}, "y": {"datum": 6109, "type": "quantitative"}}
        },
        {
          "data": {"values": [{}]},
          "mark": {"type": "text", "text": "provided by", "align": "right", "baseline": "alphabetic", "font": "Liberation Sans", "fontSize": 7, "color": "#777"},
          "encoding": {"x": {"datum": {"year": 2021, "month": 11, "date": 24, "hours": 0}, "type": "temporal"}, "y": {"datum": 5924, "type": "quantitative"}}
        },
        {
          "data": {"values": [{}]},
          "mark": {"type": "text", "text": "IG", "align": "right", "baseline": "alphabetic", "font": "Liberation Sans", "fontSize": 10.5, "fontWeight": "bold", "color": "#e3001b"},
          "encoding": {"x": {"datum": {"year": 2021, "month": 11, "date": 28, "hours": 6}, "type": "temporal"}, "y": {"datum": 5890, "type": "quantitative"}}
        }
      ]
    }
  ]
}
